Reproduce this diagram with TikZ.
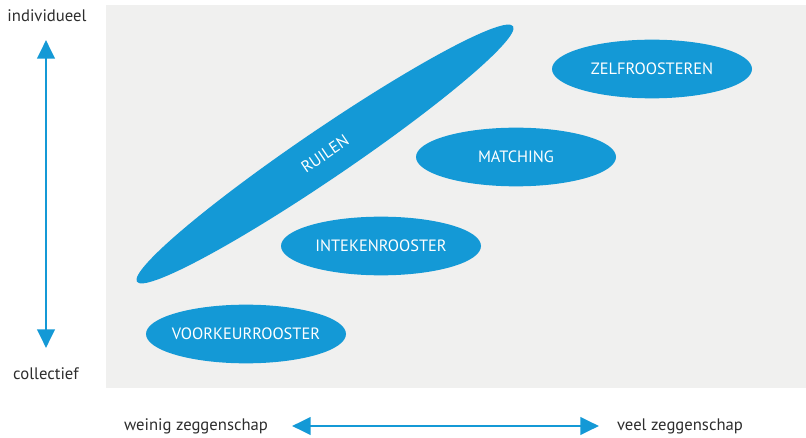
\documentclass[tikz,border=0pt]{standalone}
\usepackage{fontspec}
\setmainfont{PT Sans}
\usetikzlibrary{shapes.geometric,arrows.meta}
\definecolor{zeeblauw}{RGB}{20,153,214}
\definecolor{vlakgrijs}{RGB}{240,240,239}
\definecolor{tekstgrijs}{RGB}{45,45,45}
\tikzset{
  blob/.style={ellipse,fill=zeeblauw,text=white,inner xsep=-30pt,inner ysep=0pt,
    minimum width=150pt,minimum height=44pt,font=\fontsize{12.3}{14}\selectfont},
  aslabel/.style={text=tekstgrijs,font=\fontsize{12.5}{14}\selectfont},
  aspijl/.style={zeeblauw,line width=2.2pt,
    {Triangle[width=13pt,length=14pt]}-{Triangle[width=13pt,length=14pt]}}
}
\begin{document}
\begin{tikzpicture}[x=0.75pt,y=-0.75pt]
\useasboundingbox (0,0) rectangle (806,438);
% grey field
\fill[vlakgrijs] (106,5) rectangle (806,388);

% the five forms
\node[blob,rotate=34.2,minimum width=341pt,minimum height=37pt] (ruilen) at (325,154) {RUILEN};
\node[blob] (zelf) at (652,69) {ZELFROOSTEREN};
\node[blob] (match) at (516,157) {MATCHING};
\node[blob] (inteken) at (381,246) {INTEKENROOSTER};
\node[blob] (voorkeur) at (246,334) {VOORKEURROOSTER};

% vertical axis
\node[aslabel] (indiv) at (47,16) {individueel};
\node[aslabel] (coll) at (46,374) {collectief};
\coordinate (vtop) at (46,40);
\coordinate (vbot) at (46,348);
\draw[aspijl] (vbot) -- (vtop);

% horizontal axis
\node[aslabel] (weinig) at (196,426) {weinig zeggenschap};
\node[aslabel] (veel) at (680,426) {veel zeggenschap};
\coordinate (hlinks) at (292,426);
\coordinate (hrechts) at (599,426);
\draw[aspijl] (hlinks) -- (hrechts);
\end{tikzpicture}
\end{document}
